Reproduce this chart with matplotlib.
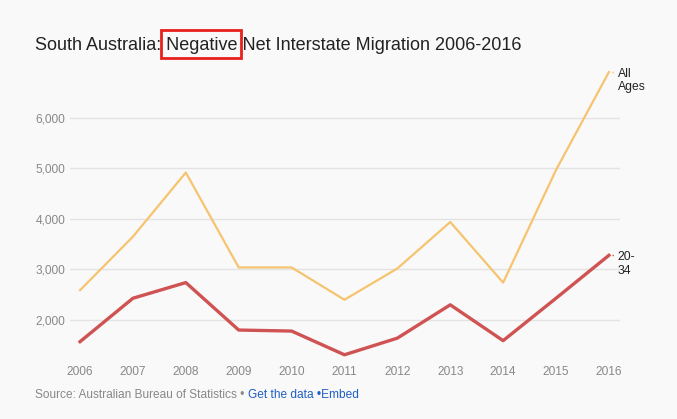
import matplotlib.pyplot as plt
from matplotlib.patches import Rectangle

years = [2006, 2007, 2008, 2009, 2010, 2011, 2012, 2013, 2014, 2015, 2016]
all_ages = [2590, 3650, 4920, 3040, 3040, 2400, 3020, 3940, 2740, 4970, 6910]
age_20_34 = [1570, 2430, 2740, 1800, 1780, 1310, 1640, 2300, 1590, 2430, 3280]
yticks = [2000, 3000, 4000, 5000, 6000]

plt.rcParams['font.family'] = ['Liberation Sans', 'DejaVu Sans']
bg = '#f9f9f9'

fig = plt.figure(figsize=(6.77, 4.19), dpi=100, facecolor=bg)
ax = fig.add_axes([70/677, 1 - 356/419, 550/677, 291/419], facecolor=bg)

ax.plot(years, all_ages, color='#f6c46f', lw=1.6, clip_on=False, zorder=3)
ax.plot(years, age_20_34, color='#d05353', lw=2.4, clip_on=False, zorder=4)

ax.set_xlim(2005.81, 2016.21)
ax.set_ylim(1286, 7050)
ax.set_xticks(years)
ax.set_xticklabels([str(y) for y in years])
ax.set_yticks(yticks)
ax.set_yticklabels([f'{v:,}' for v in yticks])
ax.grid(axis='y', color='#e3e3e3', lw=1)
ax.set_axisbelow(True)
for s in ax.spines.values():
    s.set_visible(False)
ax.tick_params(axis='both', length=0, colors='#888888', labelsize=8.6)
ax.tick_params(axis='x', pad=7)
ax.tick_params(axis='y', pad=25)
for lab in ax.get_yticklabels():
    lab.set_horizontalalignment('left')

# end labels
ax.plot([2016.05, 2016.12], [all_ages[-1], all_ages[-1]], ls=':', color='#f6c46f', lw=1, clip_on=False)
ax.plot([2016.05, 2016.12], [age_20_34[-1], age_20_34[-1]], ls=':', color='#d05353', lw=1, clip_on=False)
ax.text(2016.17, all_ages[-1] + 90, 'All\nAges', fontsize=8.7, va='top', ha='left',
        color='#222222', linespacing=1.2)
ax.text(2016.17, age_20_34[-1] + 90, '20-\n34', fontsize=8.7, va='top', ha='left',
        color='#222222', linespacing=1.2)

# title with red box around "Negative"
title_y = 1 - 45/419
fs = 13
t = fig.text(35/677, title_y, 'South Australia: Negative Net Interstate Migration 2006-2016',
             fontsize=fs, color='#222222', va='center', ha='left')
fig.canvas.draw()
r = fig.canvas.get_renderer()
pre = fig.text(35/677, title_y, 'South Australia: ', fontsize=fs, va='center', ha='left', alpha=0)
word = fig.text(35/677, title_y, 'South Australia: Negative', fontsize=fs, va='center', ha='left', alpha=0)
b1 = pre.get_window_extent(r)
b2 = word.get_window_extent(r)
x0 = b1.x1 - 5
x1 = b2.x1 + 3
fig.patches.append(Rectangle((x0 / 677, 1 - 58/419), (x1 - x0) / 677, 28/419,
                             transform=fig.transFigure, fill=False, ec='#e8201c', lw=2))

# source line
src_y = 1 - 395/419
s1 = fig.text(35/677, src_y, 'Source: Australian Bureau of Statistics \u2022 ', fontsize=8.6,
              color='#888888', va='center', ha='left')
fig.canvas.draw()
bb = s1.get_window_extent(r)
fig.text(bb.x1 / 677, src_y, 'Get the data \u2022Embed', fontsize=8.6, color='#1d5fc4',
         va='center', ha='left')

fig.savefig('out.png', dpi=100, facecolor=bg)
